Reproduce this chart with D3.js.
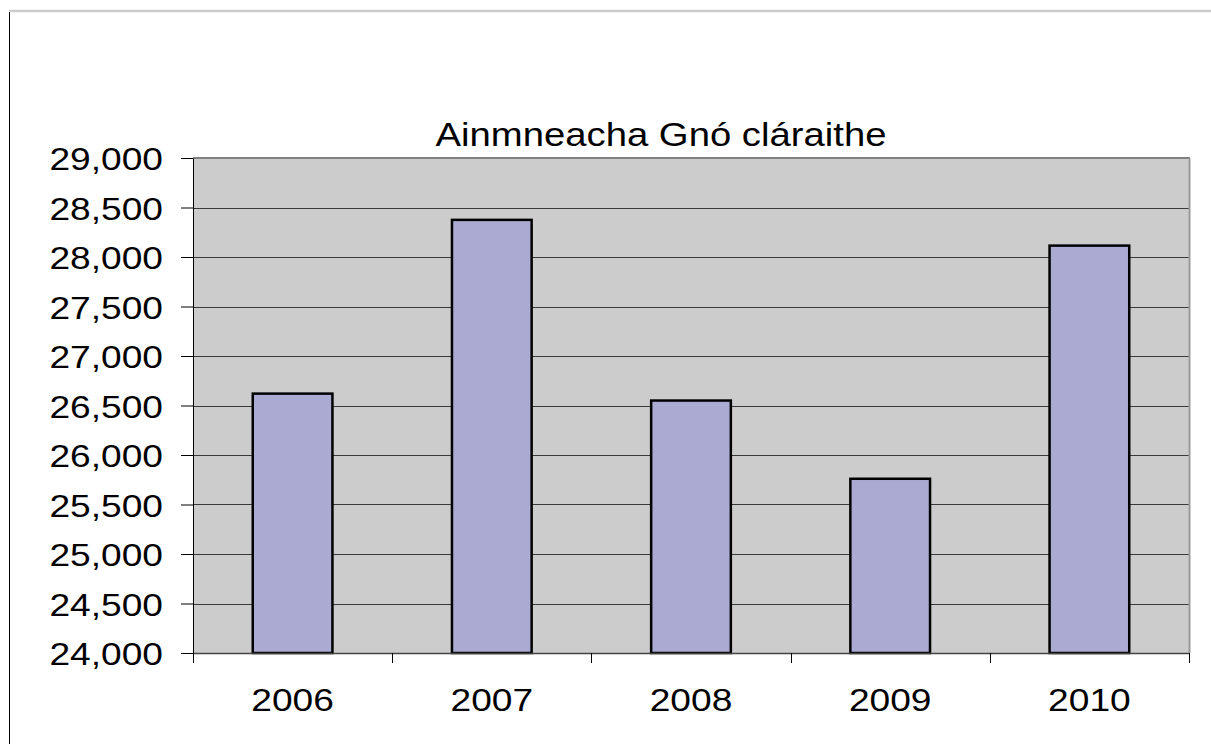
<!DOCTYPE html>
<html>
<head>
<meta charset="utf-8">
<script src="https://cdn.jsdelivr.net/npm/d3@7"></script>
<style>
  body { margin: 0; background: #fff; }
  svg text { font-family: "Liberation Sans", Arial, sans-serif; fill: #000; }
</style>
</head>
<body>
<svg id="chart" width="1211" height="744"></svg>
<script>
// data
var years = ["2006", "2007", "2008", "2009", "2010"];
var counts = [26620, 28375, 26550, 25760, 28115];
var yTicks = [24000, 24500, 25000, 25500, 26000, 26500, 27000, 27500, 28000, 28500, 29000];
var title = "Ainmneacha Gnó cláraithe";

var svg = d3.select("#chart");
// note: "top" is taken by window.top, so use plot* names
var plotLeft = 193, plotRight = 1189, plotTop = 158, plotBottom = 653;

// outer frame bits
svg.append("line").attr("x1", 9).attr("x2", 1211).attr("y1", 11).attr("y2", 11)
  .attr("stroke", "#cccccc").attr("stroke-width", 2.5);
svg.append("line").attr("x1", 9.5).attr("x2", 9.5).attr("y1", 12).attr("y2", 744)
  .attr("stroke", "#000").attr("stroke-width", 1);

var x = d3.scaleBand().domain(years).range([plotLeft, plotRight]).paddingInner(0.6).paddingOuter(0.3);
var xEdge = d3.scaleLinear().domain([0, years.length]).range([plotLeft, plotRight]);
var y = d3.scaleLinear().domain([24000, 29000]).range([plotBottom, plotTop]);

// plot background
svg.append("rect").attr("x", plotLeft).attr("y", plotTop)
  .attr("width", plotRight - plotLeft).attr("height", plotBottom - plotTop)
  .attr("fill", "#cccccc");

// gridlines
svg.append("g").selectAll("line").data(yTicks.slice(1, -1)).enter().append("line")
  .attr("x1", plotLeft).attr("x2", plotRight)
  .attr("y1", function(d) { return Math.round(y(d)) + 0.5; })
  .attr("y2", function(d) { return Math.round(y(d)) + 0.5; })
  .attr("stroke", "#3a3a3a").attr("stroke-width", 1.2);

// top + right border of plot
svg.append("line").attr("x1", plotLeft).attr("x2", plotRight + 1).attr("y1", plotTop).attr("y2", plotTop)
  .attr("stroke", "#808080").attr("stroke-width", 2);
svg.append("line").attr("x1", plotRight + 0.5).attr("x2", plotRight + 0.5).attr("y1", plotTop).attr("y2", plotBottom)
  .attr("stroke", "#999999").attr("stroke-width", 2);

// bars
svg.append("g").selectAll("rect").data(counts).enter().append("rect")
  .attr("x", function(d, i) { return x(years[i]); })
  .attr("y", function(d) { return y(d); })
  .attr("width", x.bandwidth())
  .attr("height", function(d) { return plotBottom - y(d); })
  .attr("fill", "#aaaad2")
  .attr("stroke", "#000")
  .attr("stroke-width", 2.5);

// y axis
var yAxis = d3.axisLeft(y).tickValues(yTicks).tickSize(12).tickPadding(18)
  .tickFormat(d3.format(","));
var gy = svg.append("g").attr("transform", "translate(" + plotLeft + ",0)").call(yAxis);
gy.select(".domain").attr("stroke", "#000").attr("stroke-width", 1);
gy.selectAll(".tick line").attr("stroke", "#000");
gy.selectAll("text").attr("font-size", 32).attr("dy", "0.36em");

// x axis: ticks at category boundaries
var gx = svg.append("g").attr("transform", "translate(0," + plotBottom + ")");
gx.append("line").attr("x1", plotLeft).attr("x2", plotRight).attr("y1", 0.5).attr("y2", 0.5)
  .attr("stroke", "#444").attr("stroke-width", 1.5);
gx.selectAll(".edge").data(d3.range(years.length + 1)).enter().append("line")
  .attr("x1", function(d) { return Math.round(xEdge(d)) + 0.5; })
  .attr("x2", function(d) { return Math.round(xEdge(d)) + 0.5; })
  .attr("y1", 0).attr("y2", 10).attr("stroke", "#000");
gx.selectAll("text").data(years).enter().append("text")
  .attr("x", function(d) { return x(d) + x.bandwidth() / 2; })
  .attr("y", 58)
  .attr("text-anchor", "middle")
  .attr("font-size", 32)
  .text(function(d) { return d; });

// title
svg.append("text").attr("x", 661).attr("y", 146).attr("text-anchor", "middle")
  .attr("font-size", 33).text(title);

// the source picture is stretched sideways a bit, so widen the text
svg.selectAll("text").each(function() {
  var len = this.getComputedTextLength();
  d3.select(this).attr("textLength", len * 1.16).attr("lengthAdjust", "spacingAndGlyphs");
});
</script>
</body>
</html>
